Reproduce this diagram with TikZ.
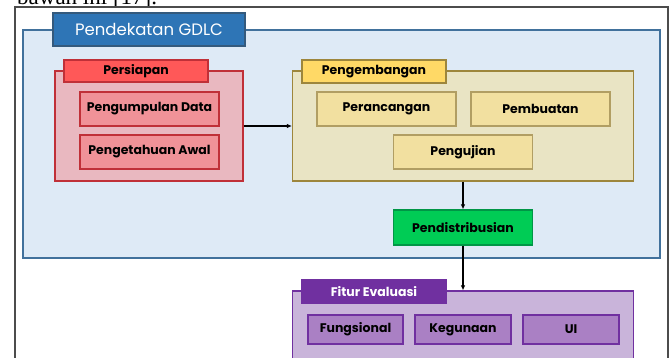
\documentclass[tikz,border=0pt]{standalone}
\usepackage{fontspec}
\setmainfont{Poppins}
\newfontfamily\bodyfont{Liberation Serif}
\usetikzlibrary{arrows.meta}

\definecolor{gdlcfill}{RGB}{222,234,246}
\definecolor{gdlcline}{RGB}{65,113,156}
\definecolor{gdlctab}{RGB}{46,117,182}
\definecolor{redgroup}{RGB}{233,184,192}
\definecolor{redline}{RGB}{192,48,56}
\definecolor{redtab}{RGB}{255,88,88}
\definecolor{redbox}{RGB}{240,146,152}
\definecolor{yelgroup}{RGB}{233,228,196}
\definecolor{yelline}{RGB}{157,134,60}
\definecolor{yeltab}{RGB}{255,217,102}
\definecolor{yelbox}{RGB}{242,224,160}
\definecolor{greenbox}{RGB}{0,204,85}
\definecolor{greenline}{RGB}{0,150,70}
\definecolor{purgroup}{RGB}{201,180,218}
\definecolor{purline}{RGB}{112,48,160}
\definecolor{purbox}{RGB}{170,128,196}

\begin{document}
\begin{tikzpicture}[x=1pt,y=-1pt,
    box/.style={draw,line width=1.2pt,minimum width=#1,inner sep=0pt,
      font=\bfseries\fontsize{12.5}{15}\selectfont},
    group/.style={draw,line width=1.2pt,inner sep=0pt},
    flow/.style={line width=1.5pt,-{Latex[length=5pt,width=4.5pt]}}]
    \useasboundingbox (0,0) rectangle (671,358);
    \clip (0,0) rectangle (671,358);

    % line of body text and page frame
    \node[anchor=base west,inner sep=0pt,font=\bodyfont\fontsize{23}{26}\selectfont]
        (bodyline) at (17,5) {bawah ini [17].};
    \draw[line width=1.2pt,draw=black!70] (15,400) -- (15,7) -- (668,7) -- (668,400);

    % GDLC frame
    \node[group,draw=gdlcline,fill=gdlcfill,minimum width=637pt,minimum height=228pt]
        (gdlc) at (341.5,144) {};
    \node[group,draw=gdlcline!80!black,fill=gdlctab,text=white,minimum width=192pt,
        minimum height=33pt,font=\fontsize{16.5}{19}\selectfont] (gdlctitle) at (149,29.5) {Pendekatan GDLC};

    % Persiapan
    \node[group,draw=redline,fill=redgroup,minimum width=188pt,minimum height=110pt]
        (persiapan) at (149,126) {};
    \node[box=144pt,draw=redline,fill=redtab,minimum height=22pt] (persiapantab) at (136,71) {Persiapan};
    \node[box=139pt,draw=redline,fill=redbox,minimum height=34pt] (data) at (149.5,109) {Pengumpulan Data};
    \node[box=139pt,draw=redline,fill=redbox,minimum height=34pt] (awal) at (149.5,152) {Pengetahuan Awal};

    % Pengembangan
    \node[group,draw=yelline,fill=yelgroup,minimum width=341pt,minimum height=110pt]
        (pengembangan) at (463,126) {};
    \node[box=144pt,draw=yelline,fill=yeltab,minimum height=23pt] (pengembangantab) at (374,71.5) {Pengembangan};
    \node[box=139pt,draw=yelline!80,fill=yelbox,minimum height=34pt] (rancang) at (386.5,109) {Perancangan};
    \node[box=139pt,draw=yelline!80,fill=yelbox,minimum height=34pt] (buat) at (540.5,109) {Pembuatan};
    \node[box=139pt,draw=yelline!80,fill=yelbox,minimum height=34pt] (uji) at (463,152) {Pengujian};

    % Pendistribusian
    \node[box=139pt,draw=greenline,fill=greenbox,minimum height=35pt] (distribusi) at (463,227.5) {Pendistribusian};

    % Fitur Evaluasi
    \node[group,draw=purline,fill=purgroup,minimum width=341pt,minimum height=80pt]
        (fitur) at (463,331) {};
    \node[box=144pt,draw=purline,fill=purline,text=white,minimum height=23pt] (fiturtab) at (374,291.5) {Fitur Evaluasi};
    \node[box=95pt,draw=purline,fill=purbox,minimum height=29pt] (fungsi) at (355.5,329.5) {Fungsional};
    \node[box=96pt,draw=purline,fill=purbox,minimum height=29pt] (guna) at (463,329.5) {Kegunaan};
    \node[box=96pt,draw=purline,fill=purbox,minimum height=29pt] (ui) at (571,329.5) {UI};

    \draw[flow] (persiapan) -- (pengembangan);
    \draw[flow] (pengembangan) -- (distribusi);
    \draw[flow] (distribusi) -- (fitur);
\end{tikzpicture}
\end{document}
